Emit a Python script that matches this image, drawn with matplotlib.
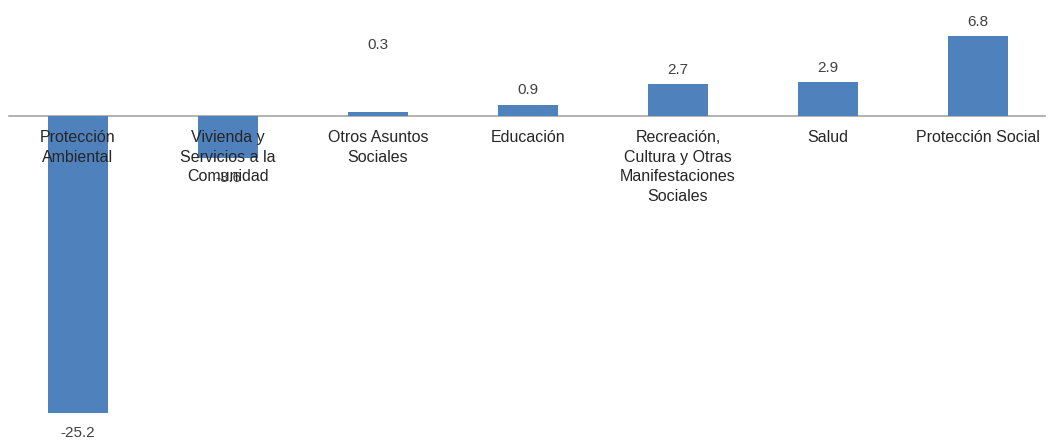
import matplotlib.pyplot as plt

# --- datos ---
categorias = [
    "Protección\nAmbiental",
    "Vivienda y\nServicios a la\nComunidad",
    "Otros Asuntos\nSociales",
    "Educación",
    "Recreación,\nCultura y Otras\nManifestaciones\nSociales",
    "Salud",
    "Protección Social",
]
valores = [-25.2, -3.6, 0.3, 0.9, 2.7, 2.9, 6.8]
etiquetas = ["-25.2", "-3.6", "0.3", "0.9", "2.7", "2.9", "6.8"]

# desplazamiento (px) de cada etiqueta de valor respecto al extremo de la barra
desplaz_px = [-20, -20, 67, 15, 14, 14, 14]

plt.rcParams['font.family'] = ['Liberation Sans', 'DejaVu Sans']

fig = plt.figure(figsize=(10.54, 4.4), dpi=100)
ax = fig.add_axes([0, 0, 1, 1])

x = list(range(len(valores)))
ax.bar(x, valores, width=0.4, color='#4f81bd', zorder=3)

# linea base
ax.plot([-0.46, 6.45], [0, 0], color='#a6a6a6', lw=1.2, zorder=2)

pt = 72 / 100  # px -> puntos
for xi, v, et, d in zip(x, valores, etiquetas, desplaz_px):
    ax.annotate(et, (xi, v), xytext=(0, d * pt), textcoords='offset points',
                ha='center', va='center', fontsize=11, color='#404040', zorder=5)

for xi, cat in zip(x, categorias):
    ax.annotate(cat, (xi, 0), xytext=(0, -14 * pt), textcoords='offset points',
                ha='center', va='top', fontsize=11.5, color='#262626',
                linespacing=1.38, zorder=4)

ax.set_xlim(-0.52, 6.507)
ax.set_ylim(-27.46, 9.83)
ax.axis('off')

fig.savefig('out.png', dpi=100, facecolor='white')
